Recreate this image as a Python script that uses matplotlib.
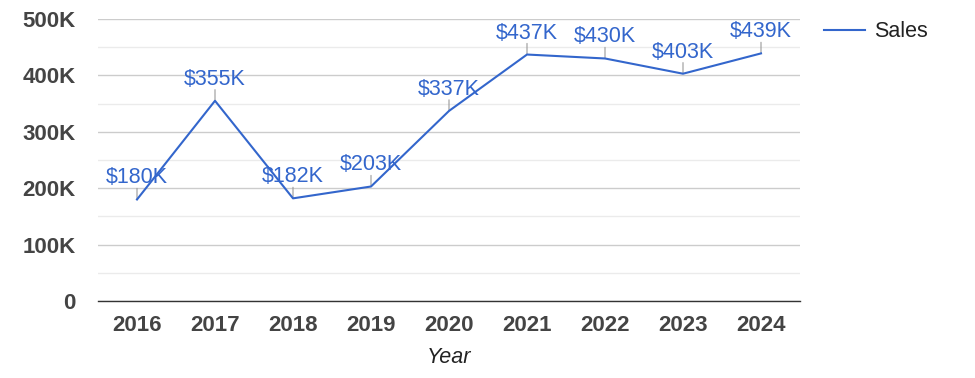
import matplotlib.pyplot as plt
from matplotlib.ticker import MultipleLocator, FuncFormatter

years = ['2016', '2017', '2018', '2019', '2020', '2021', '2022', '2023', '2024']
sales = [180, 355, 182, 203, 337, 437, 430, 403, 439]  # thousands
labels = ['$180K', '$355K', '$182K', '$203K', '$337K', '$437K', '$430K', '$403K', '$439K']

plt.rcParams['font.family'] = ['Liberation Sans', 'DejaVu Sans']

blue = '#3366cc'

fig = plt.figure(figsize=(9.75, 3.78), dpi=100)
ax = fig.add_axes([98 / 975, 1 - 301 / 378, 702 / 975, 282 / 378])

x = list(range(len(years)))
ax.plot(x, sales, color=blue, lw=1.5, label='Sales', zorder=4)

for xi, yi, lab in zip(x, sales, labels):
    ax.annotate('', xy=(xi, yi), xytext=(0, 8), textcoords='offset points',
                arrowprops=dict(arrowstyle='-', color='#999999', lw=0.8,
                                shrinkA=0, shrinkB=0), zorder=2)
    ax.annotate(lab, xy=(xi, yi), xytext=(0, 15.5), textcoords='offset points',
                ha='center', va='center', color=blue, fontsize=15.5, zorder=3)

ax.set_xlim(-0.5, len(years) - 0.5)
ax.set_ylim(0, 500)
ax.set_xticks(x)
ax.set_xticklabels(years)
ax.yaxis.set_major_locator(MultipleLocator(100))
ax.yaxis.set_minor_locator(MultipleLocator(50))
ax.yaxis.set_major_formatter(FuncFormatter(lambda v, p: '0' if v == 0 else f'{int(v)}K'))

ax.grid(axis='y', which='major', color='#cccccc', lw=1, zorder=0)
ax.grid(axis='y', which='minor', color='#ebebeb', lw=1, zorder=0)
ax.set_axisbelow(True)

for s in ['top', 'right', 'left']:
    ax.spines[s].set_visible(False)
ax.spines['bottom'].set_color('#333333')
ax.spines['bottom'].set_linewidth(1)

ax.tick_params(axis='both', which='both', length=0)
ax.tick_params(axis='y', pad=16)
ax.tick_params(axis='x', pad=10)
for t in ax.get_xticklabels() + ax.get_yticklabels():
    t.set_fontweight('bold')
    t.set_fontsize(16)
    t.set_color('#444444')

ax.set_xlabel('Year', fontsize=15.5, style='italic', color='#222222', labelpad=8)

ax.legend(loc='upper left', bbox_to_anchor=(1.007, 1.06), frameon=False,
          fontsize=15.5, handlelength=1.9, handletextpad=0.4, labelcolor='#222222')

fig.savefig('out.png', dpi=100)
